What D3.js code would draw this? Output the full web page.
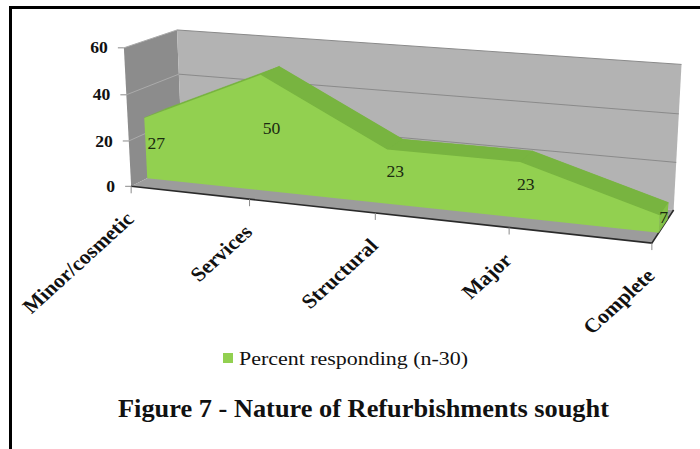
<!DOCTYPE html>
<html><head><meta charset="utf-8">
<script src="https://cdn.jsdelivr.net/npm/d3@7"></script>
<style>
html,body{margin:0;padding:0;background:#fff;}
svg{display:block;}
text{font-family:"Liberation Serif","Times New Roman",serif;}
</style>
</head><body>
<svg id="chart" width="700" height="449"></svg>
<script>
// ---- data ----
const categories = ["Minor/cosmetic", "Services", "Structural", "Major", "Complete"];
const percentResponding = [27, 50, 23, 23, 7];
const seriesName = "Percent responding (n-30)";
const yTicks = [0, 20, 40, 60];
const chartTitle = "Figure 7 - Nature of Refurbishments sought";

// ---- layout: where the corners of the 3-D plot box land on screen ----
// world coords: X along categories (0..1), Y along values (0..1), Z depth (0 front .. 1 back)
const boxAnchors = [
  [[0, 0, 0], [132, 187]],
  [[0, 1, 0], [125, 48]],
  [[0, 1, 1], [178, 30]],
  [[1, 1, 1], [681, 64]],
  [[1, 0, 1], [673, 210]],
  [[1, 0, 0], [653, 242]],
  [[0, 2/3, 1], [178, 73]],
  [[1, 2/3, 1], [679, 115]],
  [[1, 1/3, 1], [677, 163]],
  [[0.25, 0, 0], [250, 199.5]],
  [[0.5, 0, 0], [375, 213]],
  [[0.75, 0, 0], [508, 227]],
  [[0, 2/3, 0], [124, 95]],
  [[0, 1/3, 0], [129, 141]]
];
const seriesFront = 0.3, seriesBack = 0.7;   // gap depth 150%
const stretchX = 1.1;

// Fit a 3x4 perspective camera to the anchors (least squares DLT)
function fitCamera(pairs) {
  const cu = 400, cv = 150, s = 300, n = 11;
  const M = Array.from({length: n}, () => new Array(n + 1).fill(0));
  const add = (row, rhs) => {
    for (let i = 0; i < n; i++) {
      for (let j = 0; j < n; j++) M[i][j] += row[i] * row[j];
      M[i][n] += row[i] * rhs;
    }
  };
  pairs.forEach(([[X, Y, Z], [u0, v0]]) => {
    const u = (u0 - cu) / s, v = (v0 - cv) / s;
    add([X, Y, Z, 1, 0, 0, 0, 0, -u * X, -u * Y, -u * Z], u);
    add([0, 0, 0, 0, X, Y, Z, 1, -v * X, -v * Y, -v * Z], v);
  });
  for (let c = 0; c < n; c++) {
    let piv = c;
    for (let r = c + 1; r < n; r++) if (Math.abs(M[r][c]) > Math.abs(M[piv][c])) piv = r;
    [M[c], M[piv]] = [M[piv], M[c]];
    for (let r = 0; r < n; r++) {
      if (r === c) continue;
      const f = M[r][c] / M[c][c];
      for (let k = c; k <= n; k++) M[r][k] -= f * M[c][k];
    }
  }
  const p = M.map((row, i) => row[n] / row[i]);
  return ([X, Y, Z]) => {
    const w = p[8] * X + p[9] * Y + p[10] * Z + 1;
    return [
      (p[0] * X + p[1] * Y + p[2] * Z + p[3]) / w * s + cu,
      (p[4] * X + p[5] * Y + p[6] * Z + p[7]) / w * s + cv
    ];
  };
}
const project = fitCamera(boxAnchors);

const x = d3.scalePoint().domain(categories).range([0, 1]);
const y = d3.scaleLinear().domain([0, 60]).range([0, 1]);

const svg = d3.select("#chart");
const line = d3.line();
const poly = pts => line(pts.map(project)) + "Z";

// outer frame
svg.append("path")
  .attr("d", "M10.5,449V7.5H700")
  .attr("fill", "none").attr("stroke", "#000").attr("stroke-width", 3);

const walls = svg.append("g");
// side wall
walls.append("path").attr("d", poly([[0,0,0],[0,1,0],[0,1,1],[0,0,1]])).attr("fill", "#8c8c8c");
// back wall
walls.append("path").attr("d", poly([[0,0,1],[1,0,1],[1,1,1],[0,1,1]])).attr("fill", "#b3b3b3");
// floor
walls.append("path").attr("d", poly([[0,0,0],[1,0,0],[1,0,1],[0,0,1]])).attr("fill", "#9c9c9c");

// gridlines
yTicks.filter(t => t > 0).forEach(t => {
  const v = y(t);
  walls.append("path").attr("d", line([[0,v,0],[0,v,1]].map(project)))
    .attr("fill", "none").attr("stroke", "#ababab").attr("stroke-width", 1);
  walls.append("path").attr("d", line([[0,v,1],[1,v,1]].map(project)))
    .attr("fill", "none").attr("stroke", "#8a8a8a").attr("stroke-width", 1);
});

// floor front and right edges
walls.append("path").attr("d", line([[0,0,0],[1,0,0],[1,0,1]].map(project)))
  .attr("fill", "none").attr("stroke", "#2a2a2a").attr("stroke-width", 1.6);

// value axis ticks and labels
yTicks.forEach(t => {
  const [px, py] = project([0, y(t), 0]);
  svg.append("line").attr("x1", px - 6).attr("x2", px).attr("y1", py).attr("y2", py)
    .attr("stroke", "#8a8a8a");
  svg.append("text")
    .attr("transform", `translate(${px - 16},${py}) scale(${stretchX},1)`)
    .attr("text-anchor", "end").attr("dy", "0.35em")
    .attr("font-size", 16).attr("font-weight", "bold").attr("fill", "#111")
    .text(t);
});

// category ticks and labels
categories.forEach(c => {
  const [px, py] = project([x(c), 0, 0]);
  svg.append("line").attr("x1", px).attr("x2", px).attr("y1", py).attr("y2", py + 7)
    .attr("stroke", "#8a8a8a");
  svg.append("text")
    .attr("transform", `translate(${px + 4},${py + 34}) scale(${stretchX},1) rotate(-45)`)
    .attr("text-anchor", "end")
    .attr("font-size", 20).attr("font-weight", "bold").attr("fill", "#111")
    .text(c);
});

// series solid
const pts = categories.map((c, i) => [x(c), y(percentResponding[i])]);
const area = svg.append("g");
const face = z => [...pts.map(([a, b]) => [a, b, z]), [1, 0, z], [0, 0, z]];
area.append("path").attr("d", poly(face(seriesBack))).attr("fill", "#76b13f");
d3.pairs(pts).forEach(([p0, p1]) => {
  area.append("path")
    .attr("d", poly([[p0[0], p0[1], seriesFront], [p1[0], p1[1], seriesFront],
                     [p1[0], p1[1], seriesBack], [p0[0], p0[1], seriesBack]]))
    .attr("fill", "#78b440").attr("stroke", "#78b440").attr("stroke-width", 0.5);
});
const last = pts[pts.length - 1];
area.append("path")
  .attr("d", poly([[1, 0, seriesFront], [1, last[1], seriesFront], [1, last[1], seriesBack], [1, 0, seriesBack]]))
  .attr("fill", "#84c047");
area.append("path").attr("d", poly(face(seriesFront))).attr("fill", "#92d050");

// data labels at the middle of each value, mid-depth
categories.forEach((c, i) => {
  const [px, py] = project([x(c), y(percentResponding[i] / 2), 0.5]);
  svg.append("text")
    .attr("transform", `translate(${px},${py}) scale(${stretchX},1)`)
    .attr("text-anchor", "middle").attr("dy", "0.35em")
    .attr("font-size", 16).attr("fill", "#1a2a10")
    .text(percentResponding[i]);
});

// legend
svg.append("rect").attr("x", 223).attr("y", 353).attr("width", 10).attr("height", 10).attr("fill", "#92d050");
svg.append("text").attr("x", 239).attr("y", 365)
  .attr("font-size", 19.5).attr("fill", "#111")
  .attr("textLength", 229).attr("lengthAdjust", "spacingAndGlyphs")
  .text(seriesName);

// title
svg.append("text").attr("x", 118).attr("y", 417)
  .attr("font-size", 25).attr("font-weight", "bold").attr("fill", "#111")
  .attr("textLength", 491).attr("lengthAdjust", "spacingAndGlyphs")
  .text(chartTitle);
</script>
</body></html>
